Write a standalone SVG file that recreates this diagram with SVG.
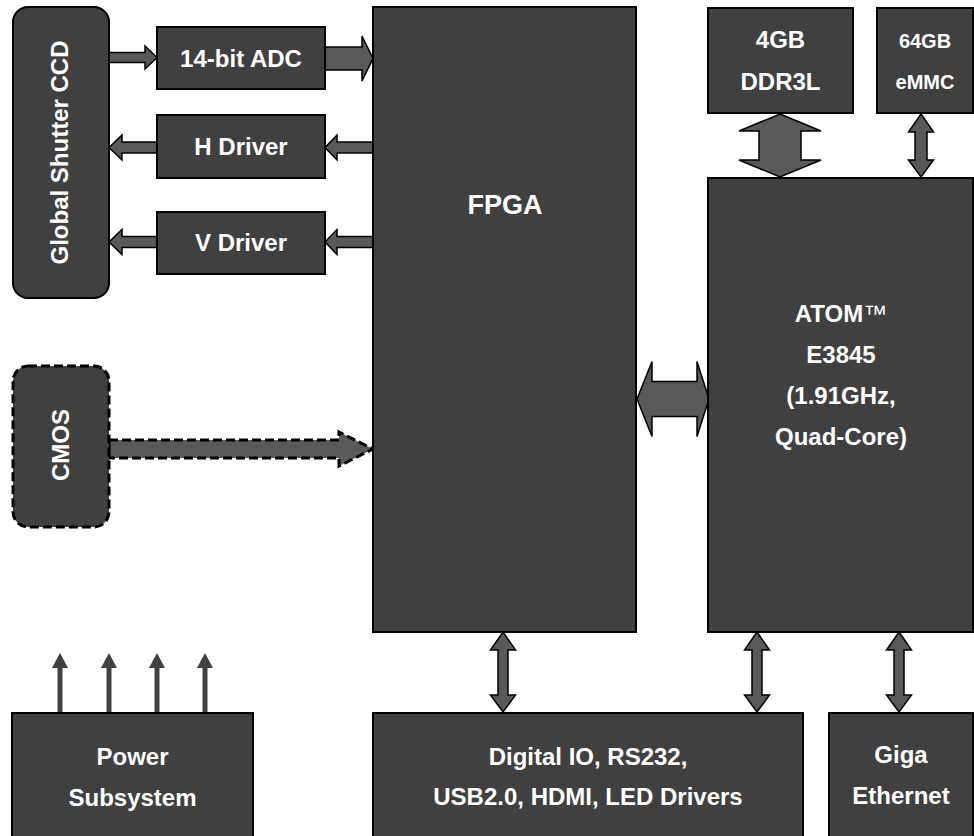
<svg xmlns="http://www.w3.org/2000/svg" width="974" height="836" viewBox="0 0 974 836">
<style>
.box{fill:#404040;stroke:#000;stroke-width:2}
.dash{fill:#404040;stroke:#000;stroke-width:3;stroke-dasharray:9 4}
.arr{fill:#595959;stroke:#000;stroke-width:1.5;stroke-linejoin:miter}
.arrd{fill:#595959;stroke:#000;stroke-width:3;stroke-dasharray:9 4}
.pw{stroke:#404040;stroke-width:5;fill:none}
.ph{fill:#404040}
text{fill:#fff;font-family:"Liberation Sans",Arial,sans-serif;font-weight:bold;font-size:24px;text-anchor:middle}
</style>
<rect width="974" height="836" fill="#fff"/>
<g id="connectors">
<path class="arr" d="M109,52.5 H145 V46 L157,57.5 L145,69 V62.5 H109 Z"/>
<path class="arr" d="M325,47 H362 V36 L373,58.5 L362,81 V70 H325 Z"/>
<path class="arr" d="M373,142 H337 V135 L325,147.5 L337,160 V153 H373 Z"/>
<path class="arr" d="M157,142 H122 V135 L109,147.5 L122,160 V153 H157 Z"/>
<path class="arr" d="M373,236.5 H337 V229.5 L325,242 L337,254.5 V247.5 H373 Z"/>
<path class="arr" d="M157,236.5 H122 V229.5 L109,242 L122,254.5 V247.5 H157 Z"/>
<path class="arrd" d="M109,440 H339 V432 L373,449 L339,466 V458 H109 Z"/>
<path class="arr" d="M637,399 L652,361.5 V381.5 H697 V361.5 L709,399 L697,436.5 V416.5 H652 V436.5 Z"/>
<path class="arr" d="M780,114 L821,131 H801 V160 H821 L780,177 L739,160 H759 V131 H739 Z"/>
<path class="arr" d="M921,114 L933.5,132 H927 V160 H933.5 L921,177 L908.5,160 H915 V132 H908.5 Z"/>
<path class="arr" d="M503,632 L515.5,650 H508 V695 H515.5 L503,712 L490.5,695 H498 V650 H490.5 Z"/>
<path class="arr" d="M757,632 L769.5,650 H762 V695 H769.5 L757,712 L744.5,695 H752 V650 H744.5 Z"/>
<path class="arr" d="M899,632 L911.5,650 H904 V695 H911.5 L899,712 L886.5,695 H894 V650 H886.5 Z"/>
<g id="power-outputs">
<line class="pw" x1="60" y1="713" x2="60" y2="666"/><polygon class="ph" points="52,668 60,653 68,668"/>
<line class="pw" x1="109" y1="713" x2="109" y2="666"/><polygon class="ph" points="101,668 109,653 117,668"/>
<line class="pw" x1="157" y1="713" x2="157" y2="666"/><polygon class="ph" points="149,668 157,653 165,668"/>
<line class="pw" x1="205" y1="713" x2="205" y2="666"/><polygon class="ph" points="197,668 205,653 213,668"/>
</g>
</g>
<g id="ccd"><rect class="box" x="13" y="7" width="96" height="291" rx="15"/><text transform="translate(68,152.5) rotate(-90)">Global Shutter CCD</text></g>
<g id="adc"><rect class="box" x="157" y="27" width="168" height="62"/><text x="241" y="67">14-bit ADC</text></g>
<g id="hdriver"><rect class="box" x="157" y="115" width="168" height="63"/><text x="241" y="155">H Driver</text></g>
<g id="vdriver"><rect class="box" x="157" y="212" width="168" height="62"/><text x="241" y="251">V Driver</text></g>
<g id="cmos"><rect class="dash" x="13" y="366" width="96" height="161" rx="15"/><text transform="translate(69,445) rotate(-90)">CMOS</text></g>
<g id="fpga"><rect class="box" x="373" y="7" width="263" height="625"/><text x="505" y="214" style="font-size:27px">FPGA</text></g>
<g id="ddr"><rect class="box" x="708" y="8" width="145" height="105"/><text x="780.5" y="48">4GB</text><text x="780.5" y="90">DDR3L</text></g>
<g id="emmc"><rect class="box" x="877" y="8" width="96" height="105"/><text x="925" y="48" style="font-size:20px">64GB</text><text x="925" y="89" style="font-size:20px">eMMC</text></g>
<g id="atom"><rect class="box" x="708" y="178" width="265" height="454"/><text x="841" y="322">ATOM<tspan style="font-weight:normal">™</tspan></text><text x="841" y="363">E3845</text><text x="841" y="404">(1.91GHz,</text><text x="841" y="445">Quad-Core)</text></g>
<g id="power"><rect class="box" x="12" y="713" width="241" height="130"/><text x="132.5" y="765">Power</text><text x="132.5" y="806">Subsystem</text></g>
<g id="io"><rect class="box" x="373" y="713" width="430" height="130"/><text x="588" y="765">Digital IO, RS232,</text><text x="588" y="805">USB2.0, HDMI, LED Drivers</text></g>
<g id="ethernet"><rect class="box" x="829" y="713" width="144" height="130"/><text x="901" y="763">Giga</text><text x="901" y="804">Ethernet</text></g>
</svg>
